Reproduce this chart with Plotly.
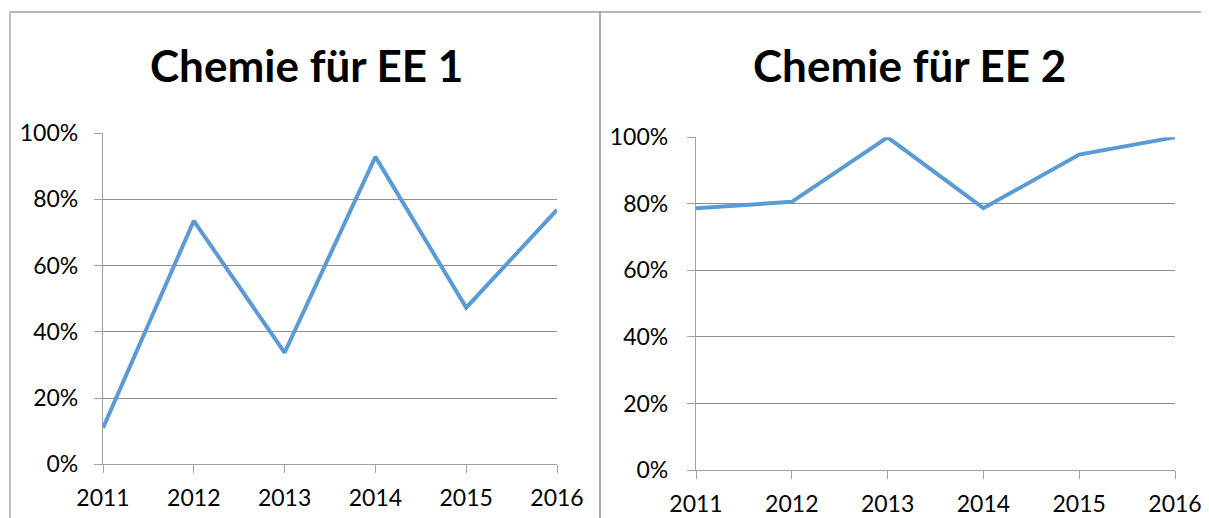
import plotly.graph_objects as go

years = ["2011", "2012", "2013", "2014", "2015", "2016"]
ee1 = [0.11, 0.735, 0.337, 0.928, 0.473, 0.768]
ee2 = [0.787, 0.806, 1.0, 0.787, 0.948, 1.0]
titles = ["Chemie für EE 1", "Chemie für EE 2"]

W, H = 1209, 518
OFF = 8  # page body margin offset
LINE = "#5B9BD5"
GRID = "#8e8e8e"
AXIS = "#a0a0a0"
FONT = "Lato"

def px_x(p):
    return (p - OFF) / W

def px_y(p):
    return 1 - (p - OFF) / H

fig = go.Figure()
fig.add_trace(go.Scatter(x=years, y=ee1, mode="lines", line=dict(color=LINE, width=4),
                         xaxis="x", yaxis="y", showlegend=False))
fig.add_trace(go.Scatter(x=years, y=ee2, mode="lines", line=dict(color=LINE, width=4),
                         xaxis="x2", yaxis="y2", showlegend=False))

def xaxis(dom, anchor):
    return dict(domain=dom, anchor=anchor, type="category", range=[0, 5],
                showline=True, linecolor=AXIS, linewidth=1.3,
                ticks="outside", ticklen=8, tickcolor=AXIS, tickwidth=1.3,
                showgrid=False, zeroline=False, automargin=False,
                ticklabelstandoff=5,
                tickfont=dict(family=FONT, size=23, color="#000000"))

def yaxis(dom, anchor, standoff):
    return dict(domain=dom, anchor=anchor, range=[0, 1], dtick=0.2, tick0=0,
                tickformat=".0%", showline=True, linecolor=AXIS, linewidth=1.3,
                ticks="outside", ticklen=8, tickcolor=AXIS, tickwidth=1.3,
                showgrid=True, gridcolor=GRID, gridwidth=1.2, zeroline=False,
                ticklabelstandoff=standoff, automargin=False,
                tickfont=dict(family=FONT, size=23, color="#000000"))

fig.update_layout(
    width=W, height=H, margin=dict(l=0, r=0, t=0, b=0, autoexpand=False),
    paper_bgcolor="white", plot_bgcolor="white",
    xaxis=xaxis([px_x(103), px_x(557)], "y"),
    yaxis=yaxis([px_y(464.3), px_y(133)], "x", 11),
    xaxis2=xaxis([px_x(696), px_x(1175)], "y2"),
    yaxis2=yaxis([px_y(470), px_y(137.3)], "x2", 14),
)

fig.add_shape(type="rect", xref="paper", yref="paper",
              x0=px_x(10), x1=px_x(600), y0=-0.2, y1=px_y(12),
              line=dict(color=AXIS, width=1.3), fillcolor="rgba(0,0,0,0)", layer="below")
fig.add_shape(type="rect", xref="paper", yref="paper",
              x0=px_x(600), x1=1.05, y0=-0.2, y1=px_y(12),
              line=dict(color=AXIS, width=1.3), fillcolor="rgba(0,0,0,0)", layer="below")

for t, cx in zip(titles, [306, 909]):
    fig.add_annotation(text="<b>%s</b>" % t, xref="paper", yref="paper",
                       x=px_x(cx), y=px_y(65), xanchor="center", yanchor="middle",
                       showarrow=False, font=dict(family=FONT, size=44, color="#000000"))

fig.write_html("out.html")
